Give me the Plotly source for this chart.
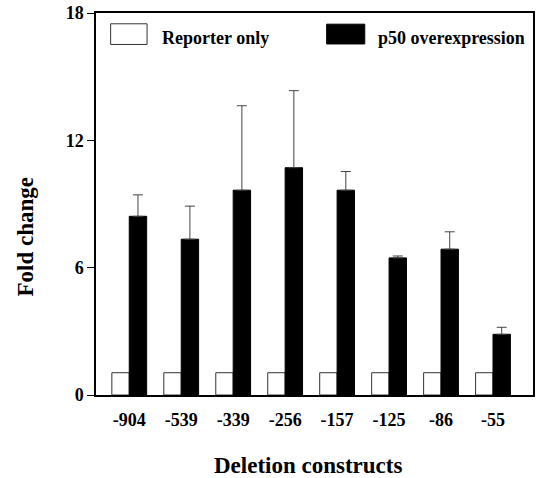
import plotly.graph_objects as go

categories = ["-904", "-539", "-339", "-256", "-157", "-125", "-86", "-55"]
reporter_only = [1.05, 1.05, 1.05, 1.05, 1.05, 1.05, 1.05, 1.05]
p50_over = [8.42, 7.34, 9.65, 10.71, 9.65, 6.46, 6.87, 2.86]
p50_err = [1.01, 1.56, 3.98, 3.63, 0.88, 0.09, 0.82, 0.33]
y_ticks = [0, 6, 12, 18]

FONT = "Liberation Serif"

fig = go.Figure()
fig.add_trace(go.Bar(
    x=categories, y=reporter_only, name="Reporter only",
    marker=dict(color="white", line=dict(color="#333333", width=1)),
    showlegend=False,
))
fig.add_trace(go.Bar(
    x=categories, y=p50_over, name="p50 overexpression",
    marker=dict(color="black", line=dict(color="black", width=1)),
    error_y=dict(type="data", array=p50_err, arrayminus=[0] * len(p50_err),
                 symmetric=False, color="#444444", thickness=1, width=5),
    showlegend=False,
))

W, H = 537, 478
L, R, T, B = 96, 2, 12.5, 83
pw = W - L - R
ph = H - T - B

def px(x):
    return (x - L) / pw

def py(y):
    return (H - B - y) / ph

shapes = [
    dict(type="rect", xref="paper", yref="paper",
         x0=px(110.7), x1=px(147.3), y0=py(44), y1=py(23.3),
         fillcolor="white", line=dict(color="#333333", width=1)),
    dict(type="rect", xref="paper", yref="paper",
         x0=px(327.7), x1=px(366), y0=py(43.5), y1=py(23.7),
         fillcolor="black", line=dict(color="black", width=1)),
]

annotations = [
    dict(text="Reporter only", xref="paper", yref="paper", x=px(160), y=py(37.5),
         xanchor="left", yanchor="middle", showarrow=False,
         font=dict(family=FONT, size=18, color="black", weight="bold")),
    dict(text="p50 overexpression", xref="paper", yref="paper", x=px(377), y=py(37.5),
         xanchor="left", yanchor="middle", showarrow=False,
         font=dict(family=FONT, size=18, color="black", weight="bold")),
    dict(text="Fold change", xref="paper", yref="paper", x=px(25), y=py(237),
         xanchor="center", yanchor="middle", textangle=-90, showarrow=False,
         font=dict(family=FONT, size=23, color="black", weight="bold")),
    dict(text="Deletion constructs", xref="paper", yref="paper", x=px(308.5), y=py(466),
         xanchor="center", yanchor="middle", showarrow=False,
         font=dict(family=FONT, size=23, color="black", weight="bold")),
]

fig.update_layout(
    width=W, height=H,
    margin=dict(l=L, r=R, t=T, b=B, pad=0),
    paper_bgcolor="white", plot_bgcolor="white",
    barmode="group", bargap=0.33, bargroupgap=0,
    shapes=shapes, annotations=annotations,
    font=dict(family=FONT, color="black"),
)
fig.update_xaxes(
    type="category", range=[-0.64, 7.77],
    showline=True, linecolor="black", linewidth=1.5, mirror=True,
    ticks="outside", ticklen=8, tickcolor="rgba(0,0,0,0)",
    showgrid=False, zeroline=False,
    tickfont=dict(family=FONT, size=18, color="black", weight="bold"),
)
fig.update_yaxes(
    range=[0, 18], tickvals=y_ticks, ticktext=[str(v) for v in y_ticks],
    showline=True, linecolor="black", linewidth=1.5, mirror=True,
    ticks="outside", ticklen=7, tickcolor="black", tickwidth=1,
    showgrid=False, zeroline=False,
    tickfont=dict(family=FONT, size=18, color="black", weight="bold"),
)

fig.write_html("out.html")
